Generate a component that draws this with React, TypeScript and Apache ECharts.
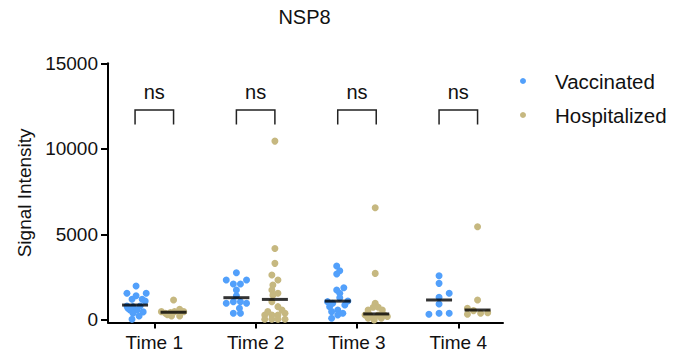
import React, { useEffect, useRef } from "react";
import * as echarts from "echarts";

const categories = ["Time 1", "Time 2", "Time 3", "Time 4"];
const yTicks = [0, 5000, 10000, 15000];

// [offset from group centre (category units), signal intensity]
const vaccT1 = [[-0.18,1982],[-0.27,1556],[-0.08,1556],[-0.18,1418],[-0.22,1205],[-0.12,1205],[-0.09,1100],[-0.27,816],[-0.21,776],[-0.14,816],[-0.26,680],[-0.24,583],[-0.17,583],[-0.11,470],[-0.21,390],[-0.15,233],[-0.22,40]];
const vaccT2 = [[-0.19,2758],[-0.29,2332],[-0.09,2332],[-0.22,2099],[-0.15,2099],[-0.19,1749],[-0.19,1418],[-0.29,974],[-0.22,1068],[-0.15,1068],[-0.09,974],[-0.16,682],[-0.22,390],[-0.15,390]];
const vaccT3 = [[-0.2,3148],[-0.17,2874],[-0.2,2682],[-0.13,1883],[-0.2,1749],[-0.17,1556],[-0.17,1300],[-0.29,1068],[-0.24,974],[-0.09,1108],[-0.27,776],[-0.12,874],[-0.19,583],[-0.14,390],[-0.25,485],[-0.19,290],[-0.25,100]];
const vaccT4 = [[-0.19,2584],[-0.19,2138],[-0.09,1556],[-0.19,1321],[-0.19,933],[-0.29,331],[-0.19,390],[-0.09,390]];

const hospT1 = [[0.19,1166],[0.07,485],[0.11,390],[0.16,426],[0.2,485],[0.25,624],[0.29,485],[0.13,300],[0.17,233],[0.25,233]];
const hospT2 = [[0.19,10453],[0.19,4180],[0.19,3306],[0.16,2624],[0.22,2332],[0.17,2040],[0.16,1749],[0.22,1556],[0.17,1450],[0.16,1068],[0.22,776],[0.12,485],[0.26,583],[0.09,290],[0.16,290],[0.22,290],[0.29,390],[0.09,40],[0.16,40],[0.22,40],[0.29,40]];
const hospT3 = [[0.18,6560],[0.18,2721],[0.18,974],[0.16,740],[0.21,740],[0.11,583],[0.25,583],[0.08,290],[0.125,290],[0.21,290],[0.27,290],[0.11,100],[0.17,100],[0.24,100],[0.3,200],[0.17,0]];
const hospT4 = [[0.19,5450],[0.19,1166],[0.09,682],[0.15,543],[0.09,331],[0.22,390],[0.29,426]];

const vaccMedians = [870, 1300, 1100, 1166];
const hospMedians = [450, 1200, 350, 580];
const vaccOffset = -0.19;
const hospOffset = 0.19;

const sigLabels = ["ns", "ns", "ns", "ns"];
const sigTop = 12270;
const sigLeg = 11430;
const sigText = 13330;

const BLUE = "#52A0FB";
const TAN = "#C6B880";
const FONT = "Liberation Sans, Arial, sans-serif";

function place(groups: number[][][]) {
  const out: number[][] = [];
  groups.forEach((g, i) => g.forEach(([dx, v]) => out.push([i + 1 + dx, v])));
  return out;
}

export default function App() {
  const ref = useRef<HTMLDivElement>(null);
  useEffect(() => {
    if (!ref.current) return;
    const chart = echarts.init(ref.current, null, { renderer: "svg" });
    const tickPos = categories.map((_, i) => i + 1);
    chart.setOption({
      animation: false,
      graphic: [
        {
          type: "text",
          x: 304.5,
          y: 17,
          style: {
            text: "NSP8",
            fontFamily: FONT,
            fontSize: 20,
            lineHeight: 20,
            fill: "#111",
            textAlign: "center",
            textVerticalAlign: "middle",
          },
        },
      ],
      legend: {
        orient: "vertical",
        left: 515,
        top: 65,
        itemWidth: 6,
        itemHeight: 6,
        itemGap: 12,
        icon: "circle",
        data: ["Vaccinated", "Hospitalized"],
        textStyle: { fontFamily: FONT, fontSize: 20.5, color: "#111", padding: [0, 0, 0, 24], lineHeight: 22 },
      },
      grid: { left: 108, right: 170, top: 63.3, bottom: 34.5, containLabel: false },
      xAxis: {
        type: "value",
        min: 0.543,
        max: 4.441,
        splitLine: { show: false },
        axisLine: { onZero: false, lineStyle: { color: "#000", width: 2 } },
        axisTick: { customValues: tickPos, length: 6, lineStyle: { color: "#000", width: 2 } },
        axisLabel: {
          customValues: tickPos,
          formatter: (v: number) => categories[Math.round(v) - 1] ?? "",
          margin: 10,
          fontFamily: FONT,
          fontSize: 19,
          color: "#111",
        },
      },
      yAxis: {
        type: "value",
        min: -150,
        max: 15000,
        name: "Signal Intensity",
        nameLocation: "middle",
        nameGap: 74,
        nameTextStyle: { fontFamily: FONT, fontSize: 19, color: "#111" },
        splitLine: { show: false },
        axisLine: { show: true, onZero: false, lineStyle: { color: "#000", width: 2 } },
        axisTick: { customValues: yTicks, length: 7, lineStyle: { color: "#000", width: 2 } },
        axisLabel: {
          customValues: yTicks,
          formatter: (v: number) => String(Math.round(v)),
          margin: 10,
          fontFamily: FONT,
          fontSize: 19,
          color: "#111",
        },
      },
      series: [
        {
          name: "Vaccinated",
          type: "scatter",
          symbolSize: 7,
          itemStyle: { color: BLUE, opacity: 1 },
          data: place([vaccT1, vaccT2, vaccT3, vaccT4]),
          z: 2,
        },
        {
          name: "Hospitalized",
          type: "scatter",
          symbolSize: 7,
          itemStyle: { color: TAN, opacity: 1 },
          data: place([hospT1, hospT2, hospT3, hospT4]),
          z: 2,
        },
        {
          name: "medians",
          type: "scatter",
          symbol: "rect",
          symbolSize: [26, 3],
          itemStyle: { color: "#000" },
          data: [
            ...vaccMedians.map((m, i) => [i + 1 + vaccOffset, m]),
            ...hospMedians.map((m, i) => [i + 1 + hospOffset, m]),
          ],
          z: 5,
          silent: true,
        },
        {
          name: "sig",
          type: "custom",
          clip: false,
          silent: true,
          data: sigLabels.map((_, i) => [i + 1, sigTop]),
          renderItem: (params: any, api: any) => {
            const x = api.value(0);
            const i = params.dataIndex;
            const p1 = api.coord([x + vaccOffset, sigLeg]);
            const p2 = api.coord([x + vaccOffset, sigTop]);
            const p3 = api.coord([x + hospOffset, sigTop]);
            const p4 = api.coord([x + hospOffset, sigLeg]);
            const t = api.coord([x, sigText]);
            return {
              type: "group",
              children: [
                {
                  type: "polyline",
                  shape: { points: [p1, p2, p3, p4] },
                  style: { stroke: "#222", lineWidth: 1.5, fill: null },
                },
                {
                  type: "text",
                  x: t[0],
                  y: t[1],
                  style: {
                    text: sigLabels[i],
                    fontFamily: FONT,
                    fontSize: 20,
                    fill: "#111",
                    textAlign: "center",
                    textVerticalAlign: "middle",
                  },
                },
              ],
            };
          },
        },
      ],
    });
    return () => chart.dispose();
  }, []);
  return <div ref={ref} style={{ width: 673, height: 357, position: "absolute", left: 0, top: 0 }} />;
}
